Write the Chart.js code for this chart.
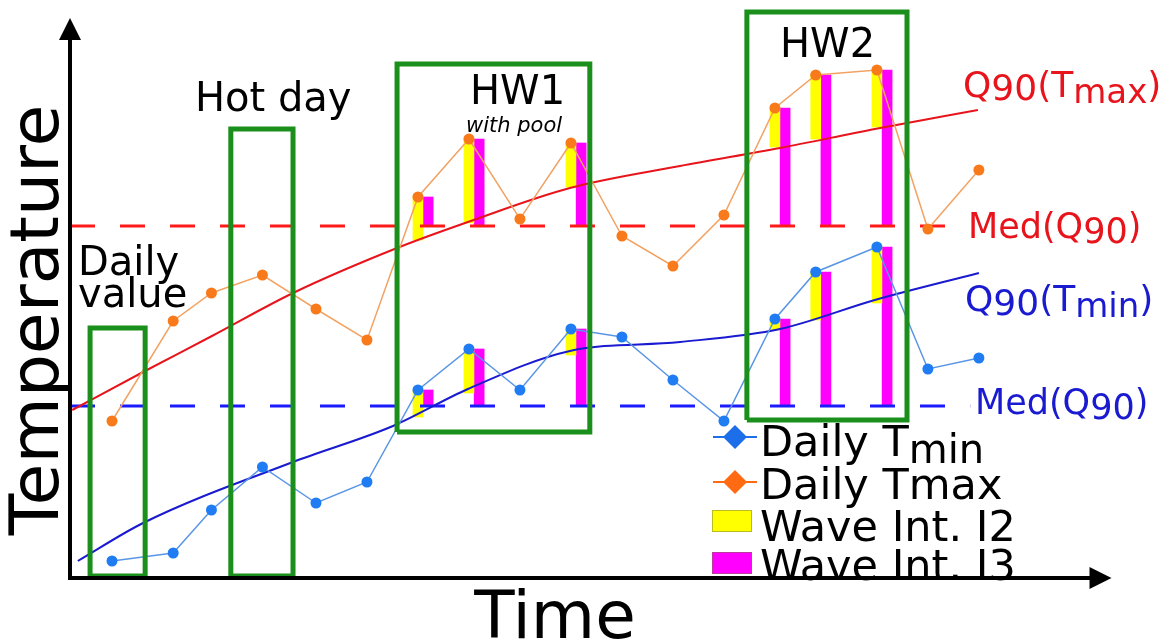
<!DOCTYPE html>
<html lang="en">
<head>
<meta charset="UTF-8">
<title>Heat wave schematic</title>
<script src="https://cdn.jsdelivr.net/npm/chart.js"></script>
<style>
    html, body { margin: 0; padding: 0; background: #fff; overflow: hidden; }
    .wrap { position: relative; width: 1172px; height: 644px; }
</style>
</head>
<body>
<div class="wrap"><canvas id="chart"></canvas></div>
<script>
// daily series (time in days, temperature in arbitrary units)
const days = [1, 2.2, 2.95, 3.95, 5, 6, 7, 8, 9, 10, 11, 12, 13, 14, 14.8, 16, 17, 18];
const tmax = [15.7, 25.7, 28.5, 30.3, 26.9, 23.8, 38.1, 43.9, 35.9, 43.5, 34.2, 31.2, 36.3, 47.0, 50.3, 50.8, 34.9, 40.8];
const tmin = [1.7, 2.5, 6.8, 11.1, 7.5, 9.6, 18.8, 22.9, 18.8, 24.9, 24.1, 19.8, 15.7, 25.9, 30.6, 33.1, 20.9, 22.0];

// Q90 climatology curves
const q90MaxDays = [0.22, 1.61, 2.96, 4.55, 6.59, 7.98, 9.98, 12.14, 14.1, 15.96, 17.98];
const q90MaxVals = [16.8, 20.6, 24.2, 28.5, 33.0, 35.6, 39.0, 41.2, 43.0, 44.9, 46.8];
const q90MinDays = [0.33, 1.61, 4.55, 6.51, 7.98, 9.98, 12.14, 14.1, 15.96, 18.0];
const q90MinVals = [1.7, 5.5, 11.6, 15.2, 18.9, 22.7, 23.6, 24.9, 27.8, 30.5];

// medians of Q90
const medQ90Max = 35.2;
const medQ90Min = 17.2;
const medEnd = [17.73, 17.83];

// heat wave days (index into days) and the Q90 value under each bar
const waveIdx = [6, 7, 9, 13, 14, 15];
const i2BaseMax = [33.8, 35.5, 39.1, 43.1, 43.9, 45.1];
const i2BaseMin = [16.1, 18.5, 22.3, 24.8, 25.8, 27.5];

// event boxes: [day from, day to, temp from, temp to]
const boxDaily = [0.57, 1.65, 0.2, 25.0];
const boxHot = [3.33, 4.55, 0.2, 44.9];
const boxHW1 = [6.59, 10.37, 14.6, 51.4];
const boxHW2 = [13.45, 16.59, 15.8, 56.6];

const xMin = 0.1765, xMax = 20.61, yMin = 0, yMax = 57;
const xArrowTip = 20.6, yArrowTip = 56;
const barShift = 0.2; // magenta bar sits right of the yellow one

const FONT = "'DejaVu Sans', 'Liberation Sans', sans-serif";

function pts(xs, ys) {
    return xs.map((x, i) => ({ x: x, y: ys[i] }));
}

function boxData(b) {
    return [
        { x: b[0], y: b[2] }, { x: b[0], y: b[3] }, { x: b[1], y: b[3] },
        { x: b[1], y: b[2] }, { x: b[0], y: b[2] }
    ];
}

function boxDataset(b) {
    return {
        type: 'line', data: boxData(b), borderColor: '#1b8f1b', borderWidth: 5,
        pointRadius: 0, tension: 0, fill: false, borderJoinStyle: 'miter', clip: 12, order: 1
    };
}

function waveBars(vals, bases, color, shift, useBase) {
    return waveIdx.map((k, i) => ({
        x: days[k] + shift,
        y: [useBase ? bases[i] : bases, vals[k]]
    }));
}

function flatLine(y, xEndVal) {
    return [{ x: xMin, y: y }, { x: xEndVal, y: y }];
}

const datasets = [
    // wave intensity bars
    { type: 'bar', data: waveBars(tmax, i2BaseMax, '#ff0', 0, true), backgroundColor: '#ffff00', barThickness: 10, grouped: false, order: 9 },
    { type: 'bar', data: waveBars(tmax, medQ90Max, '#f0f', barShift, false), backgroundColor: '#ff00ff', barThickness: 10, grouped: false, order: 9 },
    { type: 'bar', data: waveBars(tmin, i2BaseMin, '#ff0', 0, true), backgroundColor: '#ffff00', barThickness: 10, grouped: false, order: 9 },
    { type: 'bar', data: waveBars(tmin, medQ90Min, '#f0f', barShift, false), backgroundColor: '#ff00ff', barThickness: 10, grouped: false, order: 9 },
    // medians
    { type: 'line', data: flatLine(medQ90Max, medEnd[0]), borderColor: '#ff1a1a', borderWidth: 3, borderDash: [25, 25], pointRadius: 0, order: 8 },
    { type: 'line', data: flatLine(medQ90Min, medEnd[1]), borderColor: '#1a1aff', borderWidth: 3, borderDash: [25, 25], pointRadius: 0, order: 8 },
    // Q90 curves
    { type: 'line', data: pts(q90MaxDays, q90MaxVals), borderColor: '#e8141c', borderWidth: 2, pointRadius: 0, cubicInterpolationMode: 'monotone', order: 5 },
    { type: 'line', data: pts(q90MinDays, q90MinVals), borderColor: '#1a1ad0', borderWidth: 2, pointRadius: 0, cubicInterpolationMode: 'monotone', order: 5 },
    // daily values
    { type: 'line', data: pts(days, tmax), borderColor: '#f2a262', borderWidth: 1.5, pointRadius: 5.5, pointBorderWidth: 0, pointBackgroundColor: '#f97a1a', tension: 0, order: 3 },
    { type: 'line', data: pts(days, tmin), borderColor: '#5a96e6', borderWidth: 1.5, pointRadius: 5.5, pointBorderWidth: 0, pointBackgroundColor: '#1f7cf2', tension: 0, order: 3 },
    // event boxes
    boxDataset(boxDaily), boxDataset(boxHot), boxDataset(boxHW1), boxDataset(boxHW2)
];

// text pieces: [text, size, dy]
const labels = [
    { x: 78, y: 275, color: '#000', parts: [['Daily', 40, 0]] },
    { x: 78, y: 307, color: '#000', parts: [['value', 40, 0]] },
    { x: 195, y: 111, color: '#000', parts: [['Hot day', 40, 0]] },
    { x: 470, y: 104, color: '#000', parts: [['HW1', 40, 0]] },
    { x: 466, y: 132, color: '#000', italic: true, parts: [['with pool', 21, 0]] },
    { x: 780, y: 57, color: '#000', parts: [['HW2', 40, 0]] },
    { x: 963, y: 97, color: '#e8141c', parts: [['Q', 36, 0], ['90', 36, 3], ['(T', 36, 0], ['max', 34, 6], [')', 36, 0]] },
    { x: 968, y: 238, color: '#e8141c', parts: [['Med(Q', 35, 0], ['90', 35, 5], [')', 35, 0]] },
    { x: 965, y: 311, color: '#1a1ad0', parts: [['Q', 36, 0], ['90', 36, 4], ['(T', 36, 0], ['min', 34, 6], [')', 36, 0]] },
    { x: 975, y: 414, color: '#1a1ad0', parts: [['Med(Q', 35, 0], ['90', 35, 5], [')', 35, 0]] }
];

const legendRows = [
    { kind: 'diamond', color: '#1c6fe8', cy: 437, base: 456, parts: [['Daily T', 43, 0], ['min', 40, 7]] },
    { kind: 'diamond', color: '#ff6a12', cy: 482, base: 499, parts: [['Daily Tmax', 43, 0]] },
    { kind: 'rect', color: '#ffff00', cy: 521, base: 541, parts: [['Wave Int. I2', 43, 0]] },
    { kind: 'rect', color: '#ff00ff', cy: 563, base: 580, parts: [['Wave Int. I3', 43, 0]] }
];

function drawParts(ctx, x, y, parts, color, italic) {
    ctx.fillStyle = color;
    ctx.textBaseline = 'alphabetic';
    ctx.textAlign = 'left';
    let cx = x;
    parts.forEach(p => {
        ctx.font = (italic ? 'italic ' : '') + p[1] + 'px ' + FONT;
        ctx.fillText(p[0], cx, y + p[2]);
        cx += ctx.measureText(p[0]).width;
    });
}

const overlay = {
    id: 'overlay',
    afterDraw(chart) {
        const ctx = chart.ctx;
        const xs = chart.scales.x, ys = chart.scales.y;
        const x0 = xs.getPixelForValue(xMin);
        const y0 = ys.getPixelForValue(yMin);
        const xt = xs.getPixelForValue(xArrowTip);
        const yt = ys.getPixelForValue(yArrowTip);
        ctx.save();

        // axes with arrow heads
        ctx.strokeStyle = '#000';
        ctx.fillStyle = '#000';
        ctx.lineWidth = 4;
        ctx.beginPath();
        ctx.moveTo(x0, yt + 20);
        ctx.lineTo(x0, y0);
        ctx.lineTo(xt - 20, y0);
        ctx.stroke();
        ctx.beginPath();
        ctx.moveTo(xt, y0); ctx.lineTo(xt - 22, y0 - 11); ctx.lineTo(xt - 22, y0 + 11); ctx.closePath();
        ctx.fill();
        ctx.beginPath();
        ctx.moveTo(x0, yt); ctx.lineTo(x0 - 11, yt + 22); ctx.lineTo(x0 + 11, yt + 22); ctx.closePath();
        ctx.fill();

        // axis titles
        ctx.font = '66px ' + FONT;
        ctx.textAlign = 'center';
        ctx.textBaseline = 'alphabetic';
        ctx.fillText('Time', 555, 638);
        ctx.save();
        ctx.translate(58, 320);
        ctx.rotate(-Math.PI / 2);
        ctx.font = '68px ' + FONT;
        ctx.fillText('Temperature', 0, 0);
        ctx.restore();

        labels.forEach(l => drawParts(ctx, l.x, l.y, l.parts, l.color, l.italic));

        // legend
        legendRows.forEach(r => {
            if (r.kind === 'diamond') {
                ctx.strokeStyle = r.color;
                ctx.lineWidth = 2;
                ctx.beginPath();
                ctx.moveTo(713, r.cy); ctx.lineTo(757, r.cy);
                ctx.stroke();
                ctx.fillStyle = r.color;
                ctx.beginPath();
                ctx.moveTo(735, r.cy - 12); ctx.lineTo(747, r.cy); ctx.lineTo(735, r.cy + 12); ctx.lineTo(723, r.cy);
                ctx.closePath();
                ctx.fill();
            } else {
                ctx.fillStyle = r.color;
                ctx.fillRect(712, r.cy - 11, 40, 22);
                ctx.strokeStyle = 'rgba(120,120,60,0.5)';
                ctx.lineWidth = 1;
                ctx.strokeRect(712.5, r.cy - 10.5, 39, 21);
            }
            drawParts(ctx, 760, r.base, r.parts, '#000', false);
        });
        ctx.restore();
    }
};

new Chart(document.getElementById('chart'), {
    type: 'line',
    data: { datasets: datasets },
    options: {
        responsive: true,
        maintainAspectRatio: false,
        animation: false,
        layout: { padding: { left: 70, right: 60, top: 8, bottom: 66 } },
        plugins: { legend: { display: false }, tooltip: { enabled: false } },
        scales: {
            x: { type: 'linear', min: xMin, max: xMax, offset: false, display: false },
            y: { type: 'linear', min: yMin, max: yMax, display: false }
        }
    },
    plugins: [overlay]
});
</script>
</body>
</html>
